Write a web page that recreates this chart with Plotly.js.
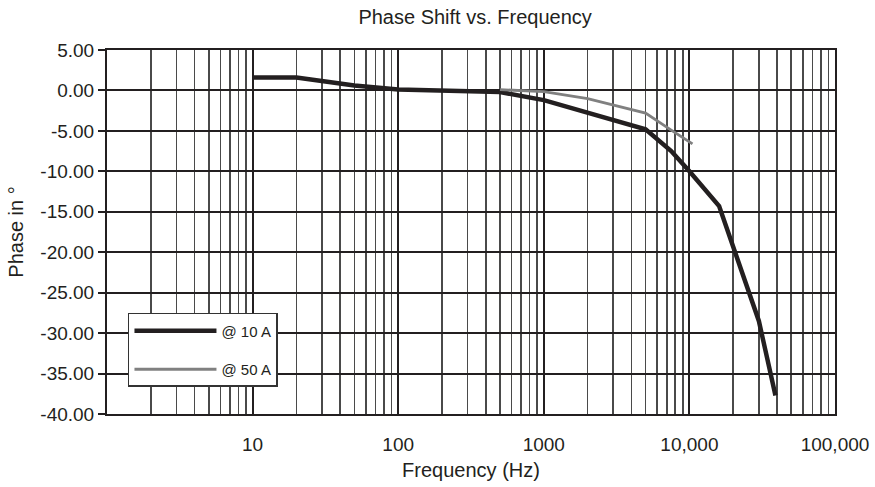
<!DOCTYPE html>
<html>
<head>
<meta charset="utf-8">
<script src="https://cdn.plot.ly/plotly-3.0.1.min.js"></script>
<style>html,body{margin:0;padding:0;background:#fff;}#chart{width:875px;height:487px;}</style>
</head>
<body>
<div id="chart"></div>
<script>
// Frequency (Hz) and phase (degrees)
var freq10A  = [10, 20, 50, 100, 500, 1000, 5000, 7500, 10000, 16000, 30000, 39000];
var phase10A = [1.6, 1.6, 0.6, 0.12, -0.2, -1.2, -4.8, -7.5, -10.0, -14.3, -28.5, -37.7];
var freq50A  = [500, 1000, 2000, 5000, 7500, 10500];
var phase50A = [0.1, -0.15, -1.0, -2.8, -4.9, -6.6];

var seriesNames = ['@ 10 A', '@ 50 A'];

var xTickVals = [10, 100, 1000, 10000, 100000];
var xTickText = ['10', '100', '1000', '10,000', '100,000'];
var yTickVals = [5, 0, -5, -10, -15, -20, -25, -30, -35, -40];
var yTickText = ['5.00', '0.00', '-5.00', '-10.00', '-15.00', '-20.00', '-25.00', '-30.00', '-35.00', '-40.00'];

var ink = '#231f20';
var font = 'Liberation Sans, Arial, sans-serif';

var traces = [
  {x: freq10A, y: phase10A, name: seriesNames[0], mode: 'lines', type: 'scatter',
   line: {color: ink, width: 4.5}, legendgroup: 'a'},
  {x: freq50A, y: phase50A, name: seriesNames[1], mode: 'lines', type: 'scatter',
   line: {color: '#808080', width: 2.8}, legendgroup: 'b'}
];

var layout = {
  width: 875, height: 487,
  margin: {l: 107, r: 40, t: 50, b: 73},
  paper_bgcolor: '#fff', plot_bgcolor: '#fff',
  font: {family: font, size: 19, color: ink},
  title: {text: 'Phase Shift vs. Frequency', x: 0.543, xanchor: 'center', y: 0.965, yanchor: 'middle',
          font: {family: font, size: 20, color: ink}},
  xaxis: {
    type: 'log', range: [0, 5],
    tickmode: 'array', tickvals: xTickVals, ticktext: xTickText,
    ticks: '', ticklabelstandoff: 12,
    showgrid: true, gridcolor: ink, gridwidth: 2,
    minor: {dtick: 'D1', showgrid: true, gridcolor: '#4a4a4a', gridwidth: 1.6, ticks: ''},
    showline: true, mirror: true, linecolor: ink, linewidth: 2,
    zeroline: false,
    tickfont: {family: font, size: 19, color: ink},
    title: {text: 'Frequency (Hz)', standoff: 9, font: {family: font, size: 20, color: ink}}
  },
  yaxis: {
    range: [-40, 5],
    tickmode: 'array', tickvals: yTickVals, ticktext: yTickText,
    ticks: 'outside', ticklen: 7, tickwidth: 2, tickcolor: ink,
    showgrid: true, gridcolor: ink, gridwidth: 2,
    showline: true, mirror: true, linecolor: ink, linewidth: 2,
    zeroline: false,
    tickfont: {family: font, size: 19, color: ink},
    title: {text: 'Phase in °', standoff: 11, font: {family: font, size: 20, color: ink}}
  },
  showlegend: true,
  legend: {
    x: 0.0288, xanchor: 'left', y: 0.2775, yanchor: 'top',
    bgcolor: '#fff', bordercolor: '#333', borderwidth: 1.5,
    font: {family: font, size: 15, color: ink},
    itemwidth: 82, tracegroupgap: 16,
    traceorder: 'grouped'
  }
};

Plotly.newPlot('chart', traces, layout, {staticPlot: true, displayModeBar: false});
</script>
</body>
</html>
